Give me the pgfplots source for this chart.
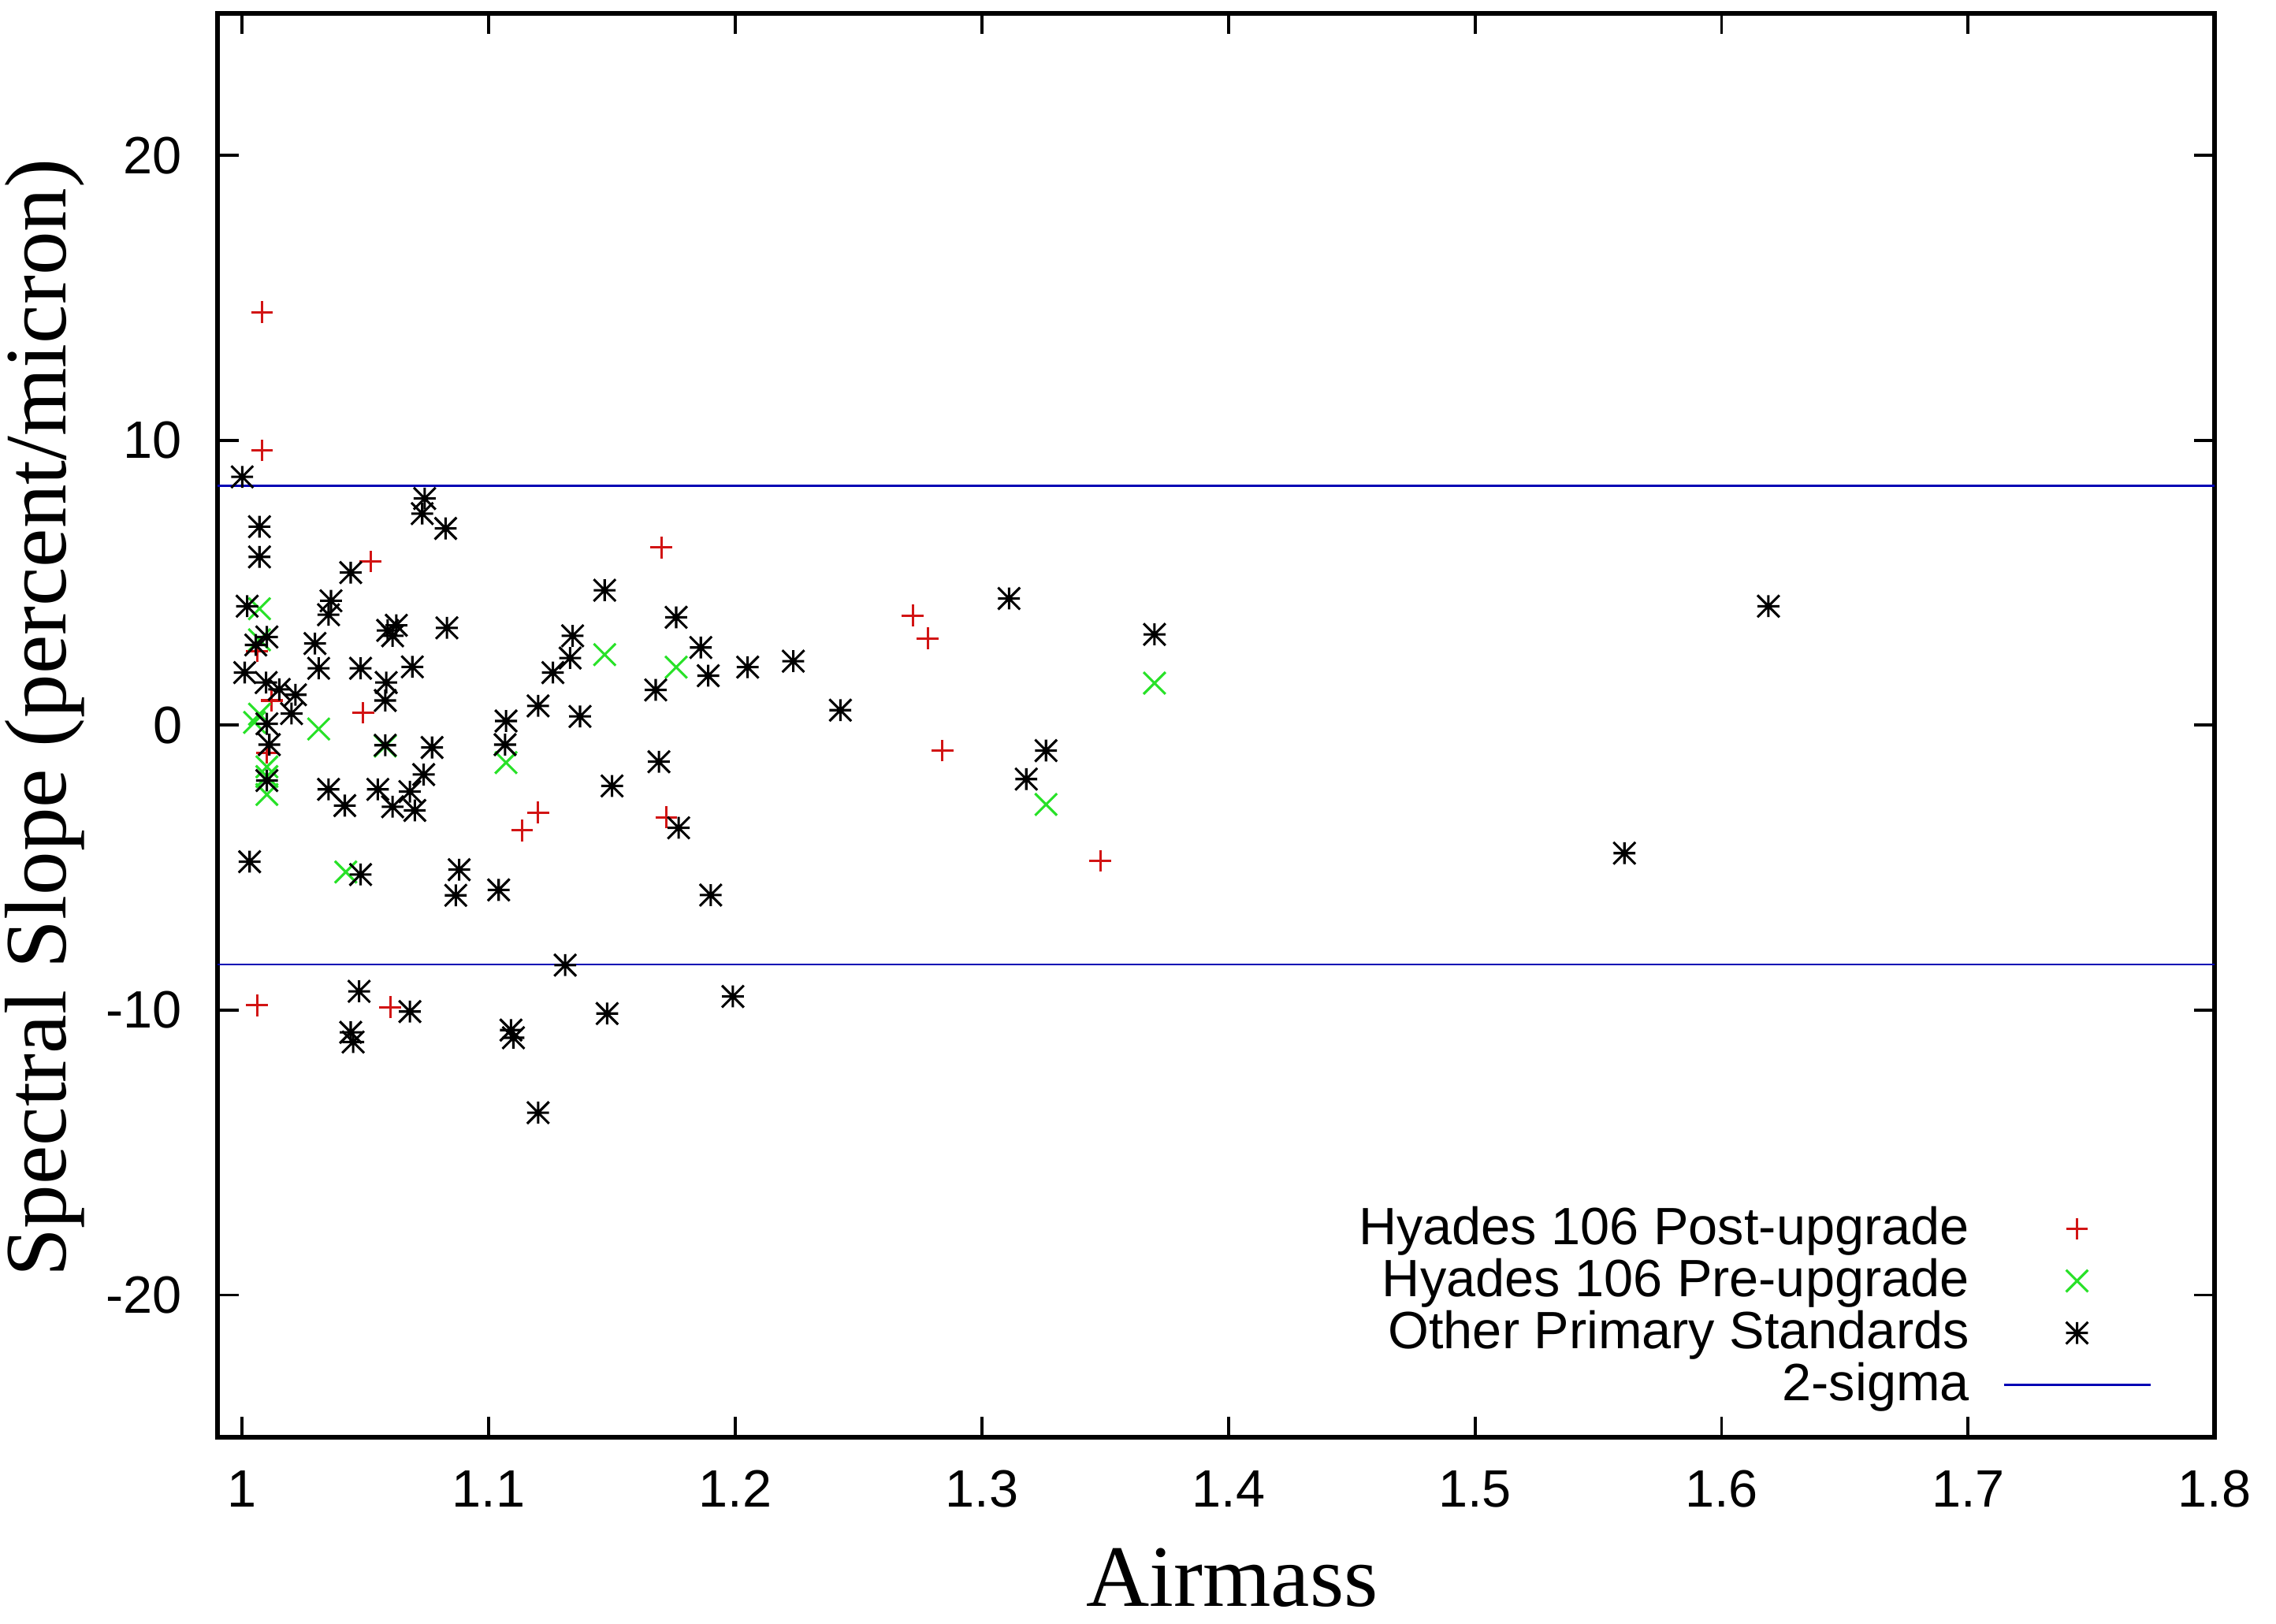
\documentclass[border=0pt]{standalone}
\usepackage{fontspec}
\setmainfont{Liberation Sans}
\newfontfamily\serifont{Liberation Serif}
\usepackage{pgfplots}
\usepackage{pgfplotstable}
\pgfplotsset{compat=1.18}
\definecolor{gpred}{RGB}{210,20,20}
\definecolor{gpgreen}{RGB}{40,225,40}
\definecolor{gpblue}{RGB}{0,0,180}
\pgfdeclareplotmark{gpplus}{%
  \pgfpathmoveto{\pgfqpoint{-\pgfplotmarksize}{0pt}}\pgfpathlineto{\pgfqpoint{\pgfplotmarksize}{0pt}}%
  \pgfpathmoveto{\pgfqpoint{0pt}{-\pgfplotmarksize}}\pgfpathlineto{\pgfqpoint{0pt}{\pgfplotmarksize}}%
  \pgfusepathqstroke}
\pgfdeclareplotmark{gpcross}{%
  \pgfpathmoveto{\pgfqpoint{-\pgfplotmarksize}{-\pgfplotmarksize}}\pgfpathlineto{\pgfqpoint{\pgfplotmarksize}{\pgfplotmarksize}}%
  \pgfpathmoveto{\pgfqpoint{-\pgfplotmarksize}{\pgfplotmarksize}}\pgfpathlineto{\pgfqpoint{\pgfplotmarksize}{-\pgfplotmarksize}}%
  \pgfusepathqstroke}
\pgfdeclareplotmark{gpstar}{%
  \pgfpathmoveto{\pgfqpoint{-\pgfplotmarksize}{0pt}}\pgfpathlineto{\pgfqpoint{\pgfplotmarksize}{0pt}}%
  \pgfpathmoveto{\pgfqpoint{0pt}{-\pgfplotmarksize}}\pgfpathlineto{\pgfqpoint{0pt}{\pgfplotmarksize}}%
  \pgfpathmoveto{\pgfqpoint{-\pgfplotmarksize}{-\pgfplotmarksize}}\pgfpathlineto{\pgfqpoint{\pgfplotmarksize}{\pgfplotmarksize}}%
  \pgfpathmoveto{\pgfqpoint{-\pgfplotmarksize}{\pgfplotmarksize}}\pgfpathlineto{\pgfqpoint{\pgfplotmarksize}{-\pgfplotmarksize}}%
  \pgfusepathqstroke}
\pgfplotsset{
  marklegend/.style={legend image code/.code={\path (0pt,0pt) (33.5pt,0pt); \draw[##1] plot[only marks] coordinates {(16.75pt,0pt)};}},
  linelegend/.style={legend image code/.code={\draw[##1] (0pt,0pt) -- (33.5pt,0pt);}},
}

\pgfplotstableread{
x y
1.008 14.5
1.008 9.65
1.052 5.75
1.170 6.24
1.006 2.6
1.012 0.87
1.049 0.44
1.010 -0.97
1.272 3.85
1.278 3.05
1.284 -0.89
1.120 -3.06
1.1135 -3.69
1.172 -3.23
1.348 -4.76
1.006 -9.83
1.060 -9.90
}\postdata

\pgfplotstableread{
x y
1.007 4.09
1.007 3.0
1.005 0.10
1.007 0.39
1.031 -0.13
1.010 -1.46
1.010 -1.80
1.010 -2.43
1.058 -0.73
1.107 -1.31
1.042 -5.15
1.147 2.48
1.176 2.04
1.326 -2.78
1.370 1.48
}\predata

\pgfplotstableread{
x y
1.000 8.72
1.074 7.96
1.073 7.43
1.0825 6.91
1.007 6.97
1.007 5.91
1.044 5.36
1.147 4.74
1.036 4.37
1.035 3.88
1.002 4.18
1.059 3.33
1.0625 3.51
1.061 3.14
1.083 3.42
1.134 3.14
1.010 3.10
1.0055 2.82
1.0295 2.87
1.133 2.36
1.001 1.85
1.031 2.0
1.048 2.0
1.069 2.05
1.126 1.85
1.0097 1.50
1.0584 1.50
1.015 1.26
1.0216 1.07
1.058 0.87
1.020 0.41
1.107 0.15
1.120 0.68
1.137 0.31
1.010 0.05
1.011 -0.68
1.058 -0.70
1.077 -0.78
1.1066 -0.68
1.0736 -1.73
1.035 -2.25
1.0416 -2.82
1.055 -2.25
1.068 -2.33
1.061 -2.86
1.070 -2.99
1.003 -4.79
1.048 -5.24
1.088 -5.07
1.0866 -5.97
1.104 -5.78
1.131 -8.42
1.0474 -9.34
1.068 -10.05
1.044 -10.78
1.045 -11.12
1.109 -10.70
1.110 -10.97
1.148 -10.12
1.010 -1.94
1.176 3.79
1.186 2.73
1.189 1.74
1.205 2.04
1.2235 2.25
1.1677 1.24
1.2426 0.53
1.311 4.45
1.169 -1.28
1.150 -2.13
1.177 -3.60
1.190 -5.96
1.370 3.19
1.326 -0.89
1.318 -1.89
1.5606 -4.49
1.619 4.18
1.199 -9.52
1.120 -13.6
}\otherdata

\begin{document}
\begin{tikzpicture}
\useasboundingbox (-49.7pt,-42.5pt) rectangle (470.2pt,328.4pt);
\begin{axis}[
  scale only axis,
  width=456.2pt, height=325.4pt,
  xmin=0.99, xmax=1.8, ymin=-25, ymax=25,
  xtick={1,1.1,1.2,1.3,1.4,1.5,1.6,1.7,1.8},
  xticklabels={1,1.1,1.2,1.3,1.4,1.5,1.6,1.7,1.8},
  ytick={-20,-10,0,10,20},
  yticklabels={-20,-10,0,10,20},
  tick align=inside,
  major tick length=4.8pt,
  every tick/.style={black, line width=0.7pt},
  axis line style={line width=1.05pt},
  tick label style={font=\fontsize{12}{14}\selectfont, inner sep=0pt},
  yticklabel style={xshift=-7.9pt},
  xticklabel style={yshift=-7.4pt},
  xlabel={Airmass},
  ylabel={Spectral Slope (percent/micron)},
  every axis x label/.style={at={(axis description cs:0.508,0)}, anchor=base, yshift=-38.6pt, font=\serifont\fontsize{20}{24}\selectfont},
  every axis y label/.style={at={(axis description cs:-0.0865,0.505)}, anchor=center, rotate=90, font=\serifont\fontsize{20}{24}\selectfont},
  unbounded coords=jump,
  legend cell align=right,
  legend plot pos=right,
  legend style={draw=none, fill=none, inner sep=0pt, outer sep=0pt,
    at={(axis description cs:0.9684,0.0211)}, anchor=south east,
    row sep=1.7pt, column sep=7.6pt,
    font=\fontsize{12}{14}\selectfont, nodes={inner sep=0pt}},
]
\addplot[only marks, mark=gpplus, mark size=2.5pt, color=gpred, line width=0.55pt, marklegend]
  table[x=x,y=y] {\postdata};
\addlegendentry{Hyades 106 Post-upgrade}
\addplot[only marks, mark=gpcross, mark size=2.5pt, color=gpgreen, line width=0.55pt, marklegend]
  table[x=x,y=y] {\predata};
\addlegendentry{Hyades 106 Pre-upgrade}
\addplot[only marks, mark=gpstar, mark size=2.5pt, color=black, line width=0.55pt, marklegend]
  table[x=x,y=y] {\otherdata};
\addlegendentry{Other Primary Standards}
\addplot[no marks, color=gpblue, line width=0.5pt, linelegend]
  coordinates {(0.99,8.4) (1.8,8.4) (1.4,nan) (0.99,-8.4) (1.8,-8.4)};
\addlegendentry{2-sigma}
\end{axis}
\end{tikzpicture}
\end{document}
